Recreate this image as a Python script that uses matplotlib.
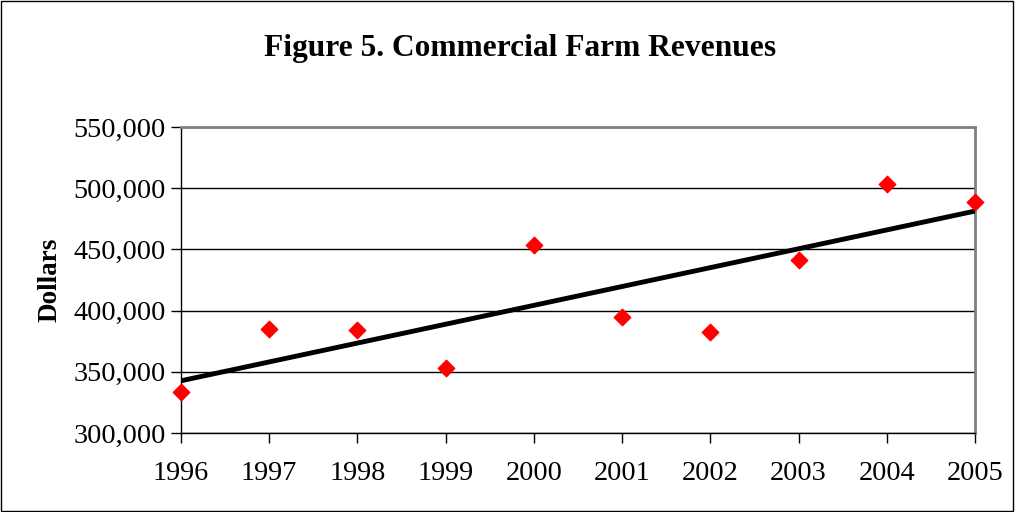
import numpy as np
import matplotlib.pyplot as plt
from matplotlib.ticker import FuncFormatter

years = [1996, 1997, 1998, 1999, 2000, 2001, 2002, 2003, 2004, 2005]
revenues = [333500, 385000, 384000, 353000, 453500, 395000, 382500, 441300, 503400, 488700]

plt.rcParams['font.family'] = ['Liberation Serif', 'DejaVu Serif']

fig = plt.figure(figsize=(10.15, 5.12), dpi=100)
ax = fig.add_axes([181 / 1015, 1 - 433 / 512, (975 - 181) / 1015, (433 - 127) / 512])

# linear trendline
slope, intercept = np.polyfit(years, revenues, 1)
trend = [slope * y + intercept for y in years]
ax.plot(years, trend, color='black', lw=3.5, zorder=3, solid_capstyle='butt')
ax.scatter(years, revenues, marker='D', s=70, color='#ff0000', zorder=4, clip_on=False)

ax.set_xlim(1996, 2005)
ax.set_ylim(300000, 550000)
ax.set_xticks(years)
ax.set_yticks(range(300000, 550001, 50000))
ax.yaxis.set_major_formatter(FuncFormatter(lambda v, p: f"{int(v):,}"))
ax.grid(axis='y', color='black', lw=1)
ax.set_axisbelow(True)
ax.tick_params(labelsize=20.3, direction='out', length=7, width=1, color='black')
ax.tick_params(axis='x', pad=13)
ax.tick_params(axis='y', pad=4)

for s in ['top', 'right']:
    ax.spines[s].set_color('#808080')
    ax.spines[s].set_linewidth(2)
for s in ['left', 'bottom']:
    ax.spines[s].set_color('black')
    ax.spines[s].set_linewidth(1)

ax.set_ylabel('Dollars', fontsize=19.5, fontweight='bold', labelpad=8)
fig.text(0.512, 0.905, 'Figure 5. Commercial Farm Revenues', ha='center', va='center',
         fontsize=22.6, fontweight='bold')

border = plt.Rectangle((0.001, 0.001), 0.997, 0.997, transform=fig.transFigure,
                       fill=False, edgecolor='black', lw=1)
fig.patches.append(border)

plt.savefig('out.png', dpi=100)
